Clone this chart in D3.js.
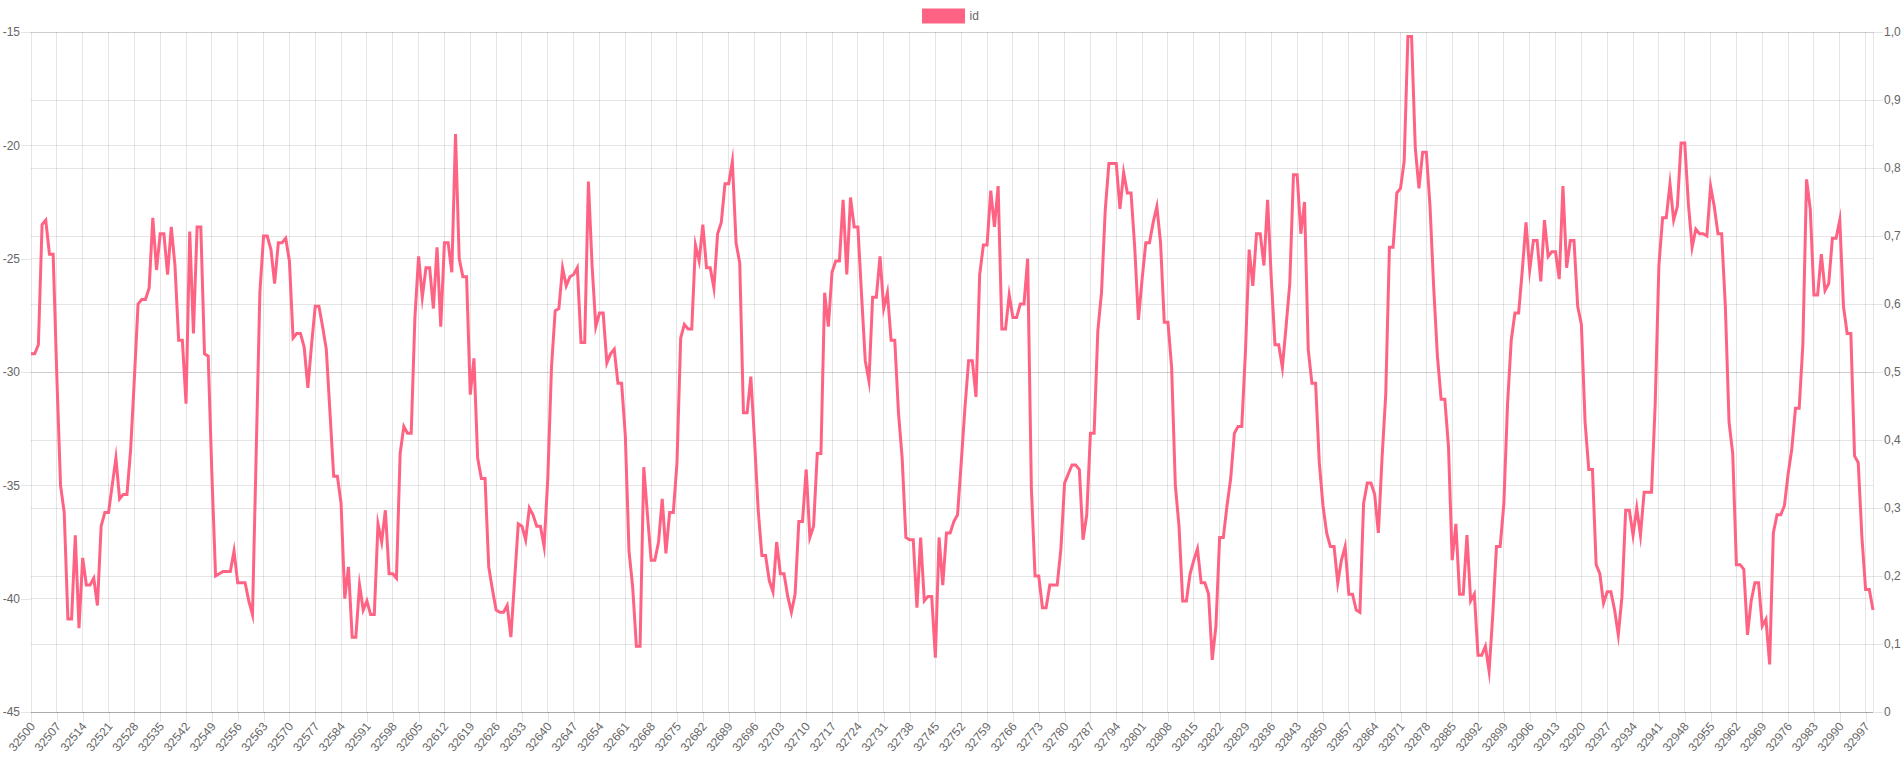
<!DOCTYPE html>
<html><head><meta charset="utf-8">
<script src="https://cdn.jsdelivr.net/npm/d3@7"></script>
<style>
body{margin:0;background:#fff;}
svg{display:block;}
text{font-family:"Liberation Sans",Arial,Helvetica,sans-serif;font-size:12px;fill:#666;}
</style>
</head><body>
<svg id="chart" width="1904" height="761"></svg>
<script>
// ---- data ----
const seriesName = "id";
const firstId = 32500;
const values = [
 -29.2,-29.2,-28.8,-23.5,-23.3,-24.8,-24.8,-30.2,-35.0,-36.2,
 -40.9,-40.9,-37.2,-41.3,-38.2,-39.4,-39.4,-39.1,-40.3,-36.8,
 -36.2,-36.2,-35.0,-33.8,-35.6,-35.4,-35.4,-33.4,-30.3,-27.0,
 -26.8,-26.8,-26.3,-23.2,-25.5,-23.9,-23.9,-25.7,-23.6,-25.3,
 -28.6,-28.6,-31.4,-23.8,-28.3,-23.6,-23.6,-29.2,-29.3,-34.5,
 -39.0,-38.9,-38.8,-38.8,-38.8,-37.9,-39.3,-39.3,-39.3,-40.1,
 -40.7,-33.6,-26.5,-24.0,-24.0,-24.6,-26.1,-24.3,-24.3,-24.1,
 -25.1,-28.5,-28.3,-28.3,-28.9,-30.7,-28.8,-27.1,-27.1,-28.0,
 -29.0,-31.8,-34.6,-34.6,-35.8,-40.0,-38.6,-41.7,-41.7,-39.4,
 -40.5,-40.1,-40.7,-40.7,-36.7,-37.5,-36.1,-38.9,-38.9,-39.1,
 -33.6,-32.4,-32.7,-32.7,-27.6,-24.9,-26.7,-25.4,-25.4,-27.2,
 -24.5,-28.0,-24.3,-24.3,-25.6,-19.5,-25.0,-25.8,-25.8,-31.0,
 -29.4,-33.8,-34.7,-34.7,-38.6,-39.6,-40.5,-40.6,-40.6,-40.3,
 -41.7,-39.2,-36.7,-36.8,-37.4,-36.0,-36.3,-36.8,-36.8,-37.7,
 -34.7,-29.8,-27.3,-27.2,-25.4,-26.2,-25.8,-25.7,-25.4,-28.7,
 -28.7,-21.6,-25.3,-28.0,-27.4,-27.4,-29.6,-29.2,-29.0,-30.5,
 -30.5,-32.8,-37.9,-39.5,-42.1,-42.1,-34.2,-36.3,-38.3,-38.3,
 -37.5,-35.6,-38.0,-36.2,-36.2,-34.0,-28.5,-27.9,-28.1,-28.1,
 -24.4,-25.1,-23.5,-25.4,-25.4,-26.3,-23.9,-23.4,-21.7,-21.7,
 -20.7,-24.3,-25.2,-31.8,-31.8,-30.2,-33.0,-36.1,-38.1,-38.1,
 -39.2,-39.7,-37.5,-38.9,-38.9,-39.9,-40.6,-39.8,-36.6,-36.6,
 -34.3,-37.3,-36.8,-33.6,-33.6,-26.5,-28.0,-25.6,-25.1,-25.1,
 -22.4,-25.7,-22.3,-23.6,-23.6,-26.6,-29.5,-30.4,-26.7,-26.7,
 -24.9,-27.2,-26.5,-28.6,-28.6,-31.8,-33.8,-37.3,-37.4,-37.4,
 -40.4,-37.3,-40.1,-39.9,-39.9,-42.6,-37.3,-39.4,-37.1,-37.1,
 -36.6,-36.3,-34.0,-31.6,-29.5,-29.5,-31.1,-25.7,-24.4,-24.4,
 -22.0,-23.6,-21.8,-28.1,-28.1,-26.6,-27.6,-27.6,-27.0,-27.0,
 -25.0,-35.1,-39.0,-39.0,-40.4,-40.4,-39.4,-39.4,-39.4,-37.8,
 -34.9,-34.5,-34.1,-34.1,-34.3,-37.4,-36.3,-32.7,-32.7,-28.2,
 -26.5,-22.9,-20.8,-20.8,-20.8,-22.8,-21.2,-22.1,-22.1,-24.5,
 -27.7,-25.9,-24.3,-24.3,-23.4,-22.7,-24.3,-27.8,-27.8,-29.8,
 -35.0,-36.8,-40.1,-40.1,-38.9,-38.3,-37.8,-39.3,-39.3,-39.8,
 -42.7,-41.2,-37.3,-37.3,-35.9,-34.7,-32.7,-32.4,-32.4,-29.1,
 -24.6,-26.2,-23.9,-23.9,-25.3,-22.4,-25.9,-28.8,-28.8,-29.8,
 -28.0,-26.1,-21.3,-21.3,-23.9,-22.5,-29.0,-30.5,-30.5,-34.0,
 -35.9,-37.1,-37.7,-37.7,-39.3,-38.3,-37.7,-39.8,-39.8,-40.5,
 -40.6,-35.8,-34.9,-34.9,-35.4,-37.1,-33.8,-31.0,-24.5,-24.5,
 -22.1,-21.9,-20.7,-15.2,-15.2,-20.1,-21.9,-20.3,-20.3,-22.7,
 -26.3,-29.3,-31.2,-31.2,-33.3,-38.3,-36.7,-39.8,-39.8,-37.2,
 -40.1,-39.8,-42.5,-42.5,-42.1,-43.2,-40.7,-37.7,-37.7,-35.8,
 -31.4,-28.6,-27.4,-27.4,-25.5,-23.4,-25.5,-24.2,-24.2,-26.0,
 -23.3,-24.9,-24.7,-24.7,-25.9,-21.8,-25.4,-24.2,-24.2,-27.1,
 -27.9,-32.2,-34.3,-34.3,-38.5,-38.9,-40.2,-39.7,-39.7,-40.5,
 -41.6,-39.9,-36.1,-36.1,-37.2,-36.0,-37.2,-35.3,-35.3,-35.3,
 -31.4,-25.3,-23.2,-23.2,-21.7,-23.3,-22.7,-19.9,-19.9,-22.6,
 -24.5,-23.7,-23.9,-23.9,-24.0,-21.8,-22.7,-23.9,-23.9,-27.1,
 -32.2,-33.6,-38.5,-38.5,-38.7,-41.6,-40.1,-39.3,-39.3,-41.2,
 -40.9,-42.9,-37.1,-36.3,-36.3,-35.9,-34.5,-33.4,-31.6,-31.6,
 -28.8,-21.5,-22.8,-26.6,-26.6,-24.8,-26.4,-26.1,-24.1,-24.1,
 -23.3,-27.1,-28.3,-28.3,-33.7,-34.0,-37.3,-39.6,-39.6,-40.5
];
const categories = values.map((_, i) => String(firstId + i));
const xTickEvery = 7;
const leftTicks = [-45, -40, -35, -30, -25, -20, -15];
const rightTicks = [0, 0.1, 0.2, 0.3, 0.4, 0.5, 0.6, 0.7, 0.8, 0.9, 1.0];
const lineColor = "#ff6384";
const gridColor = "rgba(0,0,0,0.1)";

// ---- layout ----
const W = 1904, H = 761;
const area = {left: 31, right: 1873, top: 32, bottom: 712};
const svg = d3.select("#chart");

const x = d3.scalePoint().domain(categories).range([area.left, area.right]);
const y = d3.scaleLinear().domain([-45, -15]).range([area.bottom, area.top]);
const y2 = d3.scaleLinear().domain([0, 1]).range([area.bottom, area.top]);
const xTicks = categories.filter((d, i) => i % xTickEvery === 0);

// grid: horizontal (left axis)
svg.append("g").selectAll("line").data(leftTicks).join("line")
  .attr("x1", area.left).attr("x2", area.right)
  .attr("y1", d => y(d)).attr("y2", d => y(d))
  .attr("stroke", gridColor).attr("shape-rendering", "crispEdges");
// grid: horizontal (right axis)
svg.append("g").selectAll("line").data(rightTicks).join("line")
  .attr("x1", area.left).attr("x2", area.right)
  .attr("y1", d => y2(d)).attr("y2", d => y2(d))
  .attr("stroke", d => d === 0 ? "rgba(0,0,0,0.25)" : gridColor).attr("shape-rendering", "crispEdges");
// grid: vertical
svg.append("g").selectAll("line").data(xTicks).join("line")
  .attr("x1", d => x(d)).attr("x2", d => x(d))
  .attr("y1", area.top).attr("y2", area.bottom)
  .attr("stroke", gridColor).attr("shape-rendering", "crispEdges");
// right border
svg.append("line").attr("x1", area.right).attr("x2", area.right)
  .attr("y1", area.top).attr("y2", area.bottom)
  .attr("stroke", gridColor).attr("shape-rendering", "crispEdges");

function styleAxis(g) {
  g.select(".domain").remove();
  g.selectAll(".tick line").attr("stroke", gridColor).attr("shape-rendering", "crispEdges");
  g.selectAll("text").attr("fill", "#666").style("font-size", "12px")
    .style("font-family", '"Liberation Sans", Arial, Helvetica, sans-serif');
}

// left axis
svg.append("g").attr("transform", `translate(${area.left},0)`)
  .call(d3.axisLeft(y).tickValues(leftTicks).tickSize(10).tickPadding(1).tickFormat(d => String(d)))
  .call(styleAxis);

// right axis
svg.append("g").attr("transform", `translate(${area.right},0)`)
  .call(d3.axisRight(y2).tickValues(rightTicks).tickSize(10).tickPadding(1)
    .tickFormat(d => d === 0 ? "0" : d3.format(".1f")(d).replace(".", ",")))
  .call(styleAxis);

// bottom axis
const gx = svg.append("g").attr("transform", `translate(0,${area.bottom})`)
  .call(d3.axisBottom(x).tickValues(xTicks).tickSize(10))
  .call(styleAxis);
gx.selectAll(".tick text")
  .attr("x", 0).attr("y", 0).attr("dy", "0.35em")
  .attr("text-anchor", "end")
  .attr("transform", "translate(1,12) rotate(-50)");

// clip
svg.append("clipPath").attr("id", "clip").append("rect")
  .attr("x", area.left - 2).attr("y", area.top - 2)
  .attr("width", area.right - area.left + 4).attr("height", area.bottom - area.top + 4);

// line
const line = d3.line().x((d, i) => x(categories[i])).y(d => y(d));
svg.append("path").datum(values)
  .attr("d", line)
  .attr("fill", "none")
  .attr("stroke", lineColor)
  .attr("stroke-width", 3)
  .attr("stroke-linejoin", "miter")
  .attr("stroke-miterlimit", 10)
  .attr("clip-path", "url(#clip)");

// legend
const legend = svg.append("g");
legend.append("rect").attr("x", 923.5).attr("y", 10).attr("width", 40).attr("height", 12)
  .attr("fill", lineColor).attr("stroke", lineColor).attr("stroke-width", 3);
legend.append("text").attr("x", 969.5).attr("y", 16).attr("dy", "0.35em").text(seriesName);
</script>
</body></html>
